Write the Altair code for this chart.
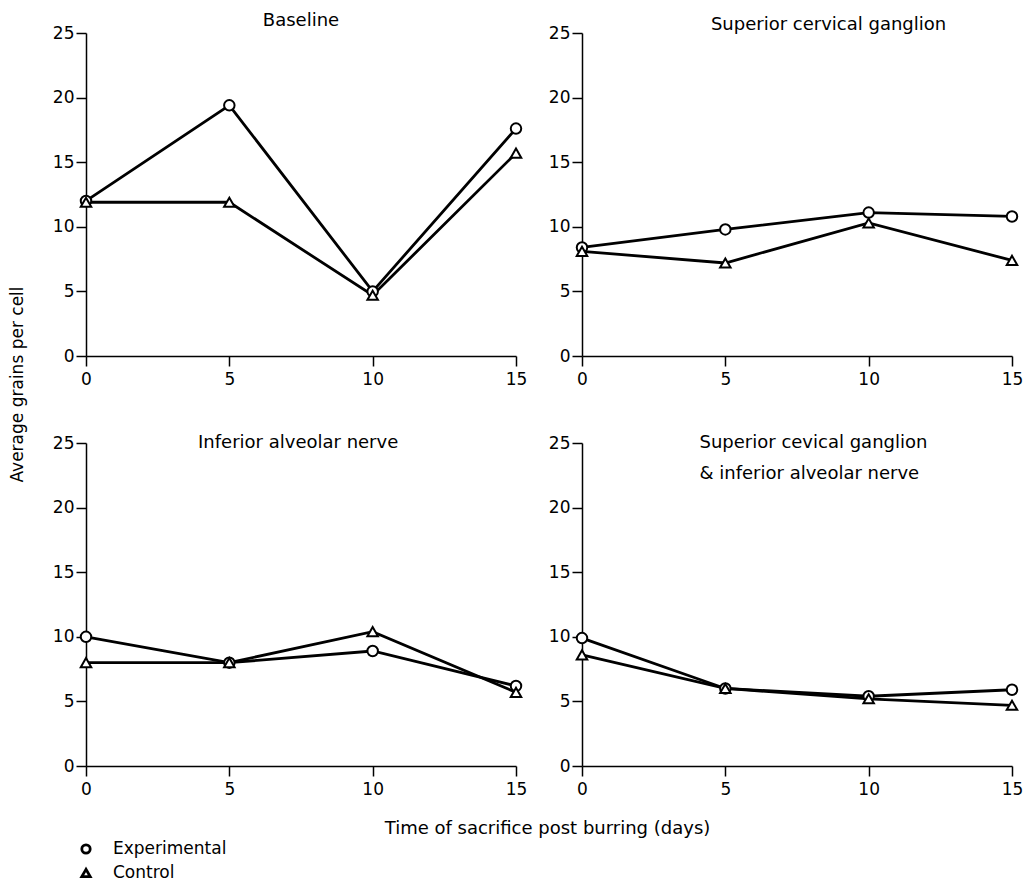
import altair as alt
import pandas as pd

days = [0, 5, 10, 15]
series_names = ["Experimental", "Control"]

baseline_exp = [12.0, 19.4, 5.0, 17.6]
baseline_ctrl = [11.9, 11.9, 4.7, 15.7]
scg_exp = [8.4, 9.8, 11.1, 10.8]
scg_ctrl = [8.1, 7.2, 10.3, 7.4]
ian_exp = [10.0, 8.0, 8.9, 6.2]
ian_ctrl = [8.0, 8.0, 10.4, 5.7]
both_exp = [9.9, 6.0, 5.4, 5.9]
both_ctrl = [8.6, 6.0, 5.2, 4.7]

y_ticks = [0, 5, 10, 15, 20, 25]
x_ticks = [0, 5, 10, 15]

FONT = "DejaVu Sans"
W, H = 430, 323
SHAPE_SCALE = alt.Scale(domain=series_names, range=["circle", "triangle-up"])


def panel(exp, ctrl, titles, show_legend=False, ytitle=None, xtitle=None):
    rows = []
    for d, e, c in zip(days, exp, ctrl):
        rows.append({"day": d, "value": e, "series": "Experimental"})
        rows.append({"day": d, "value": c, "series": "Control"})
    df = pd.DataFrame(rows)

    xaxis_kw = dict(values=x_ticks, title=xtitle if xtitle else None, labelFlush=False,
                    tickSize=10, labelPadding=5, grid=False)
    if xtitle:
        xaxis_kw.update(titleX=461, titleY=62, titleAlign="center", titleBaseline="middle",
                        titleFontSize=18, titleFontWeight="normal")
    yaxis_kw = dict(values=y_ticks, title=ytitle if ytitle else None, tickSize=10,
                    labelPadding=2, grid=False)
    if ytitle:
        yaxis_kw.update(titleX=-69, titleY=351, titleAlign="center", titleBaseline="middle",
                        titleAngle=270, titleFontSize=17, titleFontWeight="normal")

    x = alt.X("day:Q", scale=alt.Scale(domain=[0, 15], nice=False), axis=alt.Axis(**xaxis_kw))
    y = alt.Y("value:Q", scale=alt.Scale(domain=[0, 25], nice=False), axis=alt.Axis(**yaxis_kw))

    base = alt.Chart(df)
    line = base.mark_line(color="black", strokeWidth=2.8).encode(x=x, y=y, detail="series:N")
    pts = base.mark_point(filled=False, color="black", fill="white", fillOpacity=1,
                          strokeWidth=2, size=110, opacity=1).encode(
        x=x, y=y,
        shape=alt.Shape("series:N", scale=SHAPE_SCALE, legend=None))
    layers = [line, pts]
    for t in titles:
        layers.append(
            alt.Chart(pd.DataFrame([t])).mark_text(fontSize=18, font=FONT, color="black",
                                                   baseline="middle", align=t["align"]).encode(
                x="x:Q", y="y:Q", text="label:N"))
    if show_legend:
        # key below the bottom-left panel (pixel offsets from the top-left panel origin)
        ldf = pd.DataFrame({"series": series_names, "py": [816, 840]})
        lbase = alt.Chart(ldf)
        layers.append(lbase.mark_point(filled=False, color="black", fill="white", fillOpacity=1,
                                       strokeWidth=2.8, size=70, opacity=1).encode(
            x=alt.value(0), y=alt.Y("py:Q", scale=None),
            shape=alt.Shape("series:N", scale=SHAPE_SCALE, legend=None)))
        layers.append(lbase.mark_text(fontSize=17, font=FONT, color="black", align="left",
                                      baseline="middle").encode(
            x=alt.value(27), y=alt.Y("py:Q", scale=None), text="series:N"))
    return alt.layer(*layers).properties(width=W, height=H)


p1 = panel(baseline_exp, baseline_ctrl,
           [{"x": 7.5, "y": 25.9, "label": "Baseline", "align": "center"}],
           show_legend=True, ytitle="Average grains per cell")
p2 = panel(scg_exp, scg_ctrl,
           [{"x": 8.6, "y": 25.65, "label": "Superior cervical ganglion", "align": "center"}])
p3 = panel(ian_exp, ian_ctrl,
           [{"x": 7.4, "y": 25.0, "label": "Inferior alveolar nerve", "align": "center"}],
           xtitle="Time of sacrifice post burring (days)")
p4 = panel(both_exp, both_ctrl,
           [{"x": 4.1, "y": 25.0, "label": "Superior  cevical ganglion", "align": "left"},
            {"x": 4.1, "y": 22.6, "label": "& inferior alveolar nerve", "align": "left"}])

chart = alt.concat(p1, p2, p3, p4, columns=2, spacing={"row": 87, "column": 66},
                   bounds="flush").properties(
    padding={"left": 0, "top": 4, "right": 0, "bottom": 0}
).configure(font=FONT).configure_view(stroke=None).configure_axis(
    domainColor="black", domainWidth=1.5, tickColor="black", tickWidth=1.5,
    labelColor="black", labelFontSize=17, labelFont=FONT, titleColor="black", titleFont=FONT
)

chart.save("out.html", embed_options={"renderer": "svg", "actions": False})
